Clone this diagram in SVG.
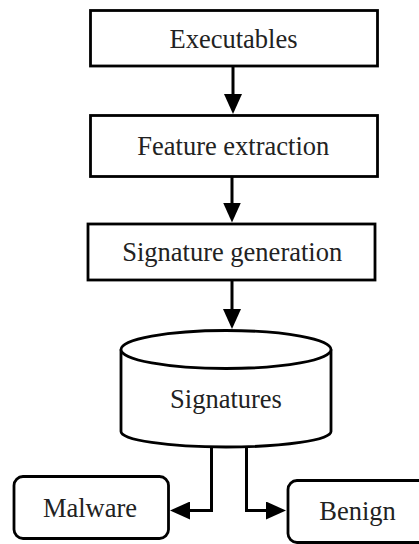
<svg xmlns="http://www.w3.org/2000/svg" width="419" height="544" viewBox="0 0 419 544">
<style>
.box{fill:#fff;stroke:#000;stroke-width:2.8}
.lbl{font-family:"Liberation Serif","Times New Roman",serif;font-size:26.5px;fill:#222;text-anchor:middle}
.edge{fill:none;stroke:#000;stroke-width:3}
</style>
<defs>
<marker id="arr" markerUnits="userSpaceOnUse" markerWidth="20" markerHeight="18" refX="14" refY="9" orient="auto">
<path d="M0,0 L20,9 L0,18 Z" fill="#000"/>
</marker>
</defs>
<rect width="419" height="544" fill="#fff"/>
<g id="n-executables">
<rect class="box" x="90.5" y="10.5" width="287" height="55.5"/>
<text class="lbl" x="233.5" y="48">Executables</text>
</g>
<g id="n-feature">
<rect class="box" x="90.5" y="115.5" width="287" height="61"/>
<text class="lbl" x="233.3" y="154.5">Feature extraction</text>
</g>
<g id="n-siggen">
<rect class="box" x="88" y="224" width="287" height="56"/>
<text class="lbl" x="232.2" y="261">Signature generation</text>
</g>
<g id="n-signatures">
<path class="box" d="M121,349.5 V431.5 A105,15.5 0 0 0 331,431.5 V349.5"/>
<ellipse class="box" cx="226" cy="349.5" rx="105" ry="19"/>
<text class="lbl" x="226" y="408">Signatures</text>
</g>
<g id="n-malware">
<rect class="box" x="14" y="476.5" width="154.5" height="62" rx="9"/>
<text class="lbl" x="90" y="517">Malware</text>
</g>
<g id="n-benign">
<rect class="box" x="288" y="480.5" width="145" height="62" rx="9"/>
<text class="lbl" x="357.5" y="520">Benign</text>
</g>
<g id="connectors">
<path class="edge" d="M233,66 V108" marker-end="url(#arr)"/>
<path class="edge" d="M232,176.5 V216.5" marker-end="url(#arr)"/>
<path class="edge" d="M232,280 V323" marker-end="url(#arr)"/>
<path class="edge" d="M211.5,447 V510.5 H176" marker-end="url(#arr)"/>
<path class="edge" d="M246.5,447 V510.5 H280" marker-end="url(#arr)"/>
</g>
</svg>
